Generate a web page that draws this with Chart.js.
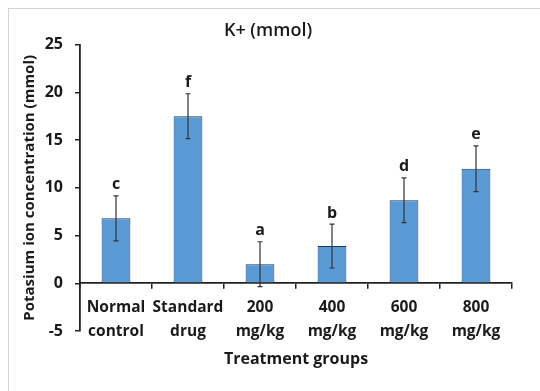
<!DOCTYPE html>
<html>
<head>
<meta charset="utf-8">
<script src="https://cdn.jsdelivr.net/npm/chart.js@4/dist/chart.umd.min.js"></script>
<style>
  html, body { margin: 0; padding: 0; background: #fff; }
  #wrap { position: relative; width: 540px; height: 391px; overflow: hidden; }
  #frame { position: absolute; left: 8px; top: 8px; width: 560px; height: 420px; border: 1px solid #d4d4d4; pointer-events: none; }
</style>
</head>
<body>
<div id="wrap">
  <canvas id="c" width="540" height="391"></canvas>
  <div id="frame"></div>
</div>
<script>
const categories = [['Normal', 'control'], ['Standard', 'drug'], ['200', 'mg/kg'], ['400', 'mg/kg'], ['600', 'mg/kg'], ['800', 'mg/kg']];
const means = [6.8, 17.5, 2.0, 3.9, 8.7, 12.0];
const errors = [2.35, 2.35, 2.35, 2.3, 2.35, 2.4];
const letters = ['c', 'f', 'a', 'b', 'd', 'e'];
const yTicks = [-5, 0, 5, 10, 15, 20, 25];

const FONT = '"Open Sans", Lato, sans-serif';
const TXT = '#1a1a1a';

const errorBarPlugin = {
  id: 'errorBars',
  afterDatasetsDraw(chart) {
    const ctx = chart.ctx;
    const y = chart.scales.y;
    const meta = chart.getDatasetMeta(0);
    ctx.save();
    ctx.strokeStyle = '#333';
    ctx.lineWidth = 1.2;
    ctx.fillStyle = TXT;
    ctx.font = 'bold 16px ' + FONT;
    ctx.textAlign = 'center';
    ctx.textBaseline = 'bottom';
    meta.data.forEach((bar, i) => {
      const px = bar.x;
      const top = y.getPixelForValue(means[i] + errors[i]);
      const bot = y.getPixelForValue(means[i] - errors[i]);
      ctx.beginPath();
      ctx.moveTo(px, top); ctx.lineTo(px, bot);
      ctx.moveTo(px - 2.5, top); ctx.lineTo(px + 2.5, top);
      ctx.moveTo(px - 2.5, bot); ctx.lineTo(px + 2.5, bot);
      ctx.stroke();
      ctx.fillText(letters[i], px, top - 3);
    });
    ctx.restore();
  }
};

new Chart(document.getElementById('c'), {
  type: 'bar',
  data: {
    labels: categories,
    datasets: [{
      data: means,
      backgroundColor: '#5B9BD5',
      borderColor: '#1f3a58',
      borderWidth: 1,
      barPercentage: 0.4,
      categoryPercentage: 1.0
    }]
  },
  options: {
    responsive: false,
    animation: false,
    layout: { padding: { top: 10, right: 28, bottom: 60, left: 24 } },
    plugins: {
      legend: { display: false },
      tooltip: { enabled: false },
      title: {
        display: true,
        text: 'K+ (mmol)',
        color: TXT,
        font: { family: FONT, size: 18, weight: '600' },
        padding: { top: 10, bottom: 3 }
      }
    },
    scales: {
      x: {
        position: { y: 0 },
        grid: { drawOnChartArea: false, drawTicks: true, tickLength: 5, color: '#222', lineWidth: 1.5, offset: true },
        border: { color: '#222', width: 1.8 },
        ticks: {
          color: TXT,
          font: { family: FONT, size: 15.5, weight: 'bold', lineHeight: 1.5 },
          padding: 8,
          maxRotation: 0,
          autoSkip: false
        },
        title: {
          display: true,
          text: 'Treatment groups',
          color: TXT,
          font: { family: FONT, size: 16, weight: 'bold' },
          padding: { top: -1, bottom: 0 }
        }
      },
      y: {
        min: -5,
        max: 25,
        afterFit: s => { s.width = 56; },
        afterBuildTicks: s => { s.ticks = yTicks.map(v => ({ value: v })); },
        grid: { drawOnChartArea: false, drawTicks: true, tickLength: 5, color: '#222', lineWidth: 1.5 },
        border: { color: '#222', width: 1.8 },
        ticks: {
          color: TXT,
          font: { family: FONT, size: 16, weight: 'bold' },
          padding: 12
        },
        title: {
          display: true,
          text: 'Potasium ion concentration (mmol)',
          color: TXT,
          font: { family: FONT, size: 15, weight: 'bold' },
          padding: { top: -3, bottom: 0 }
        }
      }
    }
  },
  plugins: [errorBarPlugin]
});
</script>
</body>
</html>
